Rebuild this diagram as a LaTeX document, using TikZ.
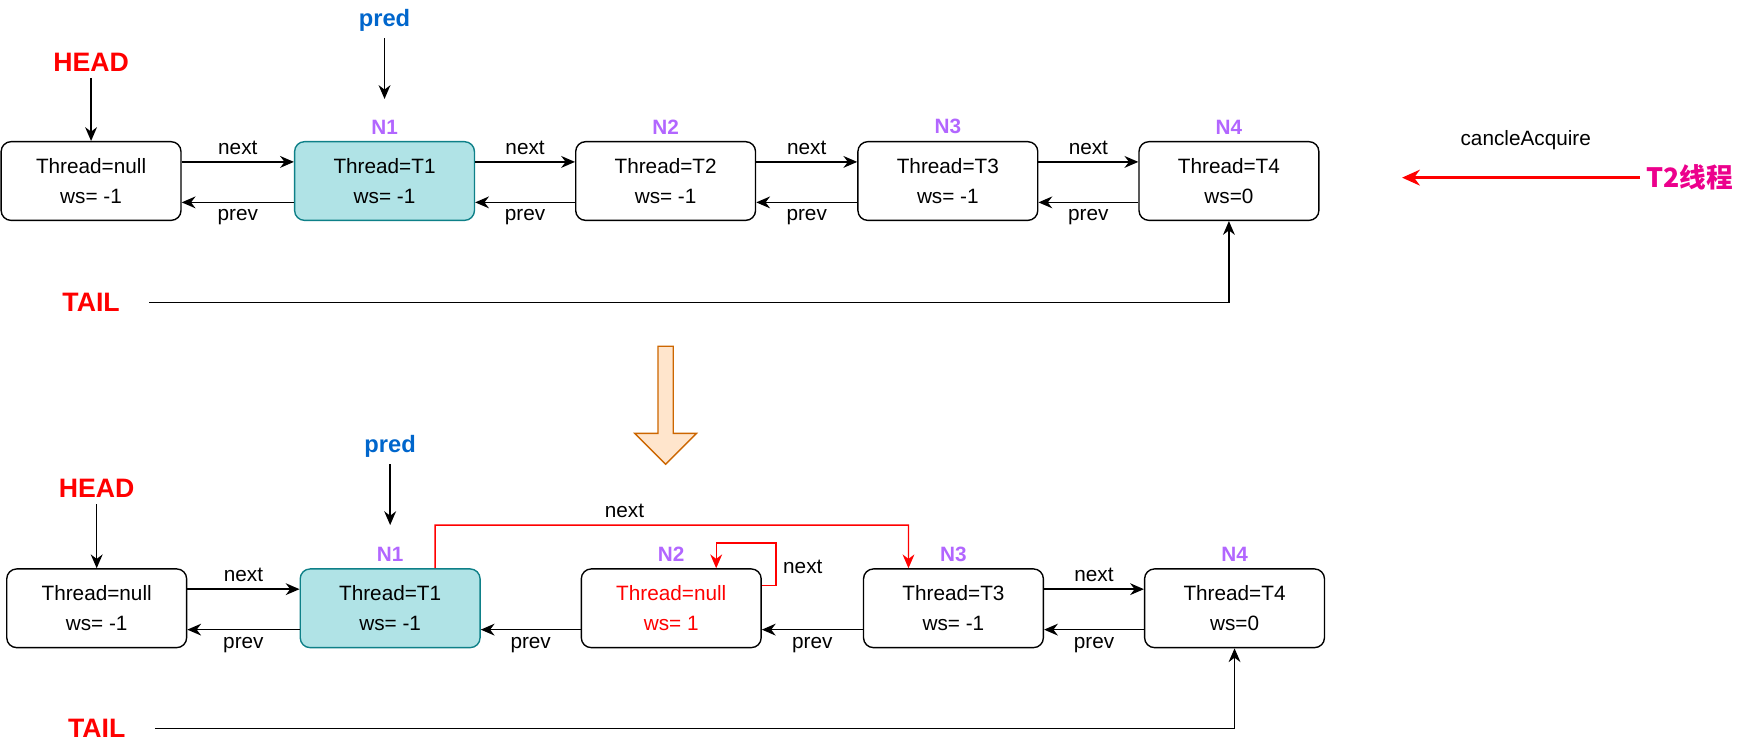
\documentclass[tikz,border=0pt]{standalone}
\usepackage{fontspec}
\setmainfont{Liberation Sans}
\newfontfamily\cjk{Noto Sans CJK SC}
\usetikzlibrary{arrows.meta,positioning,shapes.arrows}
\definecolor{predFill}{HTML}{B0E3E6}
\definecolor{predLine}{HTML}{0E8088}
\definecolor{nViolet}{HTML}{B266FF}
\definecolor{predBlue}{HTML}{0066CC}
\tikzstyle{qNode} = [rectangle, rounded corners=5pt, minimum width=3.2cm, minimum height=1.4cm, align=center, draw=black, line width=0.7pt, font=\fontsize{10.5}{15}\selectfont]
\tikzstyle{predNode} = [qNode, fill=predFill, draw=predLine]
\tikzstyle{txt} = [font=\fontsize{10.5}{13}\selectfont]
\tikzstyle{nLabel} = [font=\bfseries\fontsize{10.5}{13}\selectfont, text=nViolet]
\tikzstyle{bigLabel} = [font=\bfseries\fontsize{13.5}{16}\selectfont, text=red]
\tikzstyle{arrow} = [->,>={Stealth[length=7pt,width=6pt]}, line width=0.7pt]
\begin{document}
\begin{tikzpicture}[x=0.02cm,y=-0.02cm]
  \useasboundingbox (0,0) rectangle (1560,663);
  % upper queue
  \node (a0)[qNode] at (81,161) {Thread=null\\ws= -1};
  \node (a1)[predNode] at (342,161) {Thread=T1\\ws= -1};
  \node (a2)[qNode] at (592,161) {Thread=T2\\ws= -1};
  \node (a3)[qNode] at (843,161) {Thread=T3\\ws= -1};
  \node (a4)[qNode] at (1093,161) {Thread=T4\\ws=0};
  \foreach \i/\lab in {1/N1,2/N2,3/N3,4/N4}
    \node[nLabel, above=0pt of a\i] {\lab};
  \foreach \i/\j in {0/1,1/2,2/3,3/4} {
    \draw [arrow] ([yshift=3.4mm]a\i.east) -- node[txt,above]{next} ([yshift=3.4mm]a\j.west);
    \draw [arrow] ([yshift=-3.8mm]a\j.west) -- node[txt,below]{prev} ([yshift=-3.8mm]a\i.east);
  }
  \node (head1)[bigLabel] at (81,55) {HEAD};
  \node (pred1)[txt, font=\bfseries\fontsize{12}{14}\selectfont, text=predBlue] at (342,18) {pred};
  \node (tail1)[bigLabel] at (81,269) {TAIL};
  \draw [arrow] (head1) -- (a0);
  \draw [arrow] (pred1) -- (a1.north |- 0,88);
  \draw [arrow] (tail1.east) ++(20,0) -| (a4.south);
  \node (cancel)[txt] at (1357,125) {cancleAcquire};
  \node (t2)[font=\bfseries\fontsize{13.5}{16}\selectfont\cjk, text=magenta] at (1503,158) {T2线程};
  \draw [->,>={Stealth[length=9pt,width=8pt]}, red, line width=1.4pt] (t2.west) -- (1247,158);
  % transition arrow
  \node (turn)[single arrow, draw=orange!80!black, fill=orange!20, shape border rotate=270,
    minimum width=1.1cm, minimum height=2.1cm, single arrow head extend=0.25cm,
    single arrow tip angle=90, inner sep=2pt, line width=0.7pt] at (592,357) {};
  % lower queue
  \node (b0)[qNode] at (86,541) {Thread=null\\ws= -1};
  \node (b1)[predNode] at (347,541) {Thread=T1\\ws= -1};
  \node (b2)[qNode, text=red] at (597,541) {Thread=null\\ws= 1};
  \node (b3)[qNode] at (848,541) {Thread=T3\\ws= -1};
  \node (b4)[qNode] at (1098,541) {Thread=T4\\ws=0};
  \foreach \i/\lab in {1/N1,2/N2,3/N3,4/N4}
    \node[nLabel, above=0pt of b\i] {\lab};
  \draw [arrow] ([yshift=3.4mm]b0.east) -- node[txt,above]{next} ([yshift=3.4mm]b1.west);
  \draw [arrow] ([yshift=3.4mm]b3.east) -- node[txt,above]{next} ([yshift=3.4mm]b4.west);
  \foreach \i/\j in {0/1,1/2,2/3,3/4}
    \draw [arrow] ([yshift=-3.8mm]b\j.west) -- node[txt,below]{prev} ([yshift=-3.8mm]b\i.east);
  \draw [arrow, red] ([xshift=8mm]b1.north) |- (808,467) node[pos=0.7,above,txt,text=black]{next} -- ([xshift=-8mm]b3.north);
  \draw [arrow, red] ([yshift=4mm]b2.east) -| (690,483) -| ([xshift=8mm]b2.north);
  \node[txt] at (714,504) {next};
  \node (head2)[bigLabel] at (86,434) {HEAD};
  \node (pred2)[txt, font=\bfseries\fontsize{12}{14}\selectfont, text=predBlue] at (347,397) {pred};
  \node (tail2)[bigLabel] at (86,648) {TAIL};
  \draw [arrow] (head2) -- (b0);
  \draw [arrow] (pred2) -- (b1.north |- 0,467);
  \draw [arrow] (tail2.east) ++(20,0) -| (b4.south);
\end{tikzpicture}
\end{document}
